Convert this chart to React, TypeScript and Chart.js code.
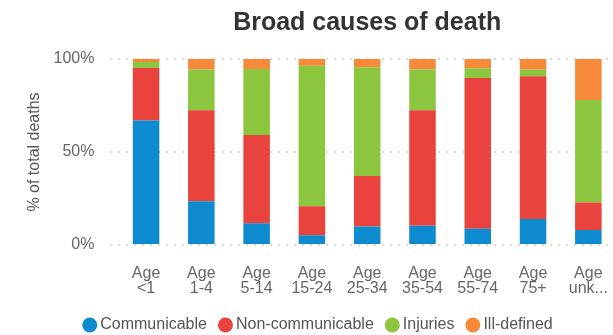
import { useEffect, useRef } from "react";
import { Chart, registerables } from "chart.js";

Chart.register(...registerables);

// Age groups (two-line tick labels)
const ageGroups: string[][] = [
  ["Age", "<1"],
  ["Age", "1-4"],
  ["Age", "5-14"],
  ["Age", "15-24"],
  ["Age", "25-34"],
  ["Age", "35-54"],
  ["Age", "55-74"],
  ["Age", "75+"],
  ["Age", "unk..."],
];

// Share of total deaths (%) per age group
const communicable = [67, 23.5, 11.7, 5.2, 10, 10.4, 8.8, 14, 8.1];
const nonCommunicable = [28.2, 48.9, 47.4, 15.6, 27.1, 62, 81, 76.7, 14.7];
const injuries = [3.2, 22, 35.5, 75.6, 58.4, 21.9, 5.2, 3.6, 55.2];
const illDefined = [1.6, 5.6, 5.4, 3.6, 4.5, 5.7, 5, 5.7, 22];

const yTicks = [0, 50, 100];

const FONT = "'Liberation Sans', Arial, sans-serif";

export default function App() {
  const ref = useRef<HTMLCanvasElement>(null);

  useEffect(() => {
    if (!ref.current) return;
    const chart = new Chart(ref.current, {
      type: "bar",
      data: {
        labels: ageGroups,
        datasets: [
          { label: "Communicable", data: communicable, backgroundColor: "#0E8BCE" },
          { label: "Non-communicable", data: nonCommunicable, backgroundColor: "#E8433C" },
          { label: "Injuries", data: injuries, backgroundColor: "#8CC63E" },
          { label: "Ill-defined", data: illDefined, backgroundColor: "#F68A3A" },
        ],
      },
      options: {
        responsive: false,
        animation: false,
        layout: { padding: { left: 24, right: 24, top: 0, bottom: 0 }, autoPadding: false },
        datasets: {
          bar: { categoryPercentage: 1, barPercentage: 0.48, borderWidth: 0 },
        },
        plugins: {
          tooltip: { enabled: false },
          title: {
            display: true,
            text: "Broad causes of death",
            fullSize: false,
            color: "#333333",
            font: { family: FONT, size: 25, weight: "bold", lineHeight: 1.2 },
            padding: { top: 8, bottom: 21 },
          },
          legend: {
            position: "bottom",
            labels: {
              usePointStyle: true,
              pointStyle: "circle",
              boxWidth: 5,
              boxHeight: 10.6,
              padding: 16,
              color: "#555555",
              font: { family: FONT, size: 16 },
            },
          },
        },
        scales: {
          x: {
            stacked: true,
            grid: { display: false, drawTicks: false },
            border: { display: false },
            afterFit: (axis: any) => {
              axis.height = 56;
            },
            ticks: {
              color: "#666666",
              padding: 21,
              maxRotation: 0,
              autoSkip: false,
              font: { family: FONT, size: 16, lineHeight: 0.94 },
            },
          },
          y: {
            stacked: true,
            min: 0,
            max: 100,
            afterBuildTicks: (axis: any) => {
              axis.ticks = yTicks.map((v) => ({ value: v }));
            },
            afterFit: (axis: any) => {
              axis.width = 94.4;
            },
            grid: {
              color: "#dadada",
              lineWidth: 2,
              drawTicks: true,
              tickLength: 8,
              tickColor: "#dadada",
              tickBorderDash: [2, 6],
            },
            border: { display: false, dash: [2, 6] },
            ticks: {
              color: "#666666",
              padding: 16,
              font: { family: FONT, size: 16 },
              callback: (v: any) => v + "%",
            },
            title: {
              display: true,
              text: "% of total deaths",
              color: "#555555",
              font: { family: FONT, size: 16 },
              padding: { top: 1, bottom: 8 },
            },
          },
        },
      },
    });
    return () => chart.destroy();
  }, []);

  return (
    <div
      style={{
        position: "fixed",
        left: 0,
        top: 0,
        width: 613,
        height: 335,
        overflow: "hidden",
        background: "#ffffff",
      }}
    >
      <canvas ref={ref} width={640} height={343} style={{ display: "block" }} />
    </div>
  );
}
